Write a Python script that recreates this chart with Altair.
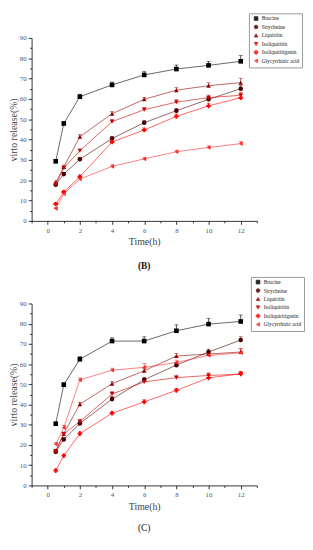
import altair as alt
import pandas as pd

# ---------------- data ----------------
times = [0.5, 1, 2, 4, 6, 8, 10, 12]
series = ["Brucine", "Strychnine", "Liquiritin", "Isoliquiritin",
          "Isoliquiritigenin", "Glycyrrhizic acid"]

# Panel (B)
brucine_b = [29.3, 47.9, 61.1, 66.9, 71.8, 74.7, 76.5, 78.5]
strychnine_b = [17.8, 23.0, 30.3, 40.5, 48.3, 54.2, 59.8, 65.0]
liquiritin_b = [18.9, 26.5, 41.4, 52.7, 59.8, 64.3, 66.5, 68.0]
isoliquiritin_b = [18.0, 26.0, 34.5, 48.8, 54.7, 58.4, 60.6, 61.8]
isoliquiritigenin_b = [8.3, 14.2, 21.7, 38.8, 44.7, 51.4, 56.6, 60.6]
glycyrrhizic_b = [6.1, 13.3, 20.6, 26.8, 30.5, 34.0, 36.1, 38.0]

brucine_b_err = [0.8, 1.0, 1.2, 1.4, 1.6, 2.0, 2.0, 2.8]
strychnine_b_err = [0.8, 0.8, 0.8, 1.0, 1.0, 1.2, 1.5, 1.6]
liquiritin_b_err = [0.8, 0.9, 1.0, 1.0, 1.0, 1.2, 1.4, 2.2]
isoliquiritin_b_err = [0.8, 0.8, 0.8, 1.0, 1.0, 1.2, 1.3, 1.5]
isoliquiritigenin_b_err = [0.8, 0.8, 0.8, 1.0, 1.0, 1.2, 1.3, 1.5]
glycyrrhizic_b_err = [0.6, 0.6, 0.8, 0.8, 0.8, 0.8, 0.8, 1.0]

# Panel (C)
brucine_c = [30.5, 49.8, 62.4, 71.4, 71.4, 76.5, 79.8, 81.1]
strychnine_c = [16.6, 22.7, 30.6, 42.7, 52.3, 59.5, 66.0, 71.9]
liquiritin_c = [17.0, 25.6, 40.2, 50.3, 56.7, 64.0, 65.0, 66.0]
isoliquiritin_c = [17.0, 25.4, 31.6, 45.2, 51.2, 53.3, 54.4, 55.0]
isoliquiritigenin_c = [7.3, 14.7, 25.6, 35.7, 41.3, 47.0, 53.2, 55.2]
glycyrrhizic_c = [20.4, 28.6, 52.2, 57.0, 58.4, 60.8, 64.3, 65.6]

brucine_c_err = [0.8, 1.0, 1.3, 1.6, 2.1, 2.9, 2.8, 3.2]
strychnine_c_err = [0.8, 0.8, 1.0, 1.2, 1.2, 1.4, 1.4, 1.6]
liquiritin_c_err = [0.8, 0.8, 1.0, 1.0, 1.2, 1.2, 1.4, 1.6]
isoliquiritin_c_err = [0.8, 0.8, 1.0, 1.2, 1.2, 1.2, 1.2, 1.2]
isoliquiritigenin_c_err = [0.8, 0.8, 0.8, 1.0, 1.0, 1.0, 1.2, 1.2]
glycyrrhizic_c_err = [0.8, 1.0, 1.0, 1.0, 2.0, 1.2, 1.4, 2.0]

colors = ["#000000", "#4a0000", "#8e0000", "#cc0000", "#ff0000", "#ff2a2a"]
shapes = ["square", "circle", "triangle-up", "triangle-down", "cross", "triangle-left"]

x_major = [0, 2, 4, 6, 8, 10, 12]
x_minor = [-1, 1, 3, 5, 7, 9, 11, 13]
y_major = [0, 10, 20, 30, 40, 50, 60, 70, 80, 90]
y_minor = [5, 15, 25, 35, 45, 55, 65, 75, 85]


def make_df(vals, errs):
    rows = []
    for name, v, e in zip(series, vals, errs):
        for t, y, err in zip(times, v, e):
            rows.append({"series": name, "time": t, "value": y, "hi": y + err})
    return pd.DataFrame(rows)


df_b = make_df(
    [brucine_b, strychnine_b, liquiritin_b, isoliquiritin_b, isoliquiritigenin_b, glycyrrhizic_b],
    [brucine_b_err, strychnine_b_err, liquiritin_b_err, isoliquiritin_b_err,
     isoliquiritigenin_b_err, glycyrrhizic_b_err])
df_c = make_df(
    [brucine_c, strychnine_c, liquiritin_c, isoliquiritin_c, isoliquiritigenin_c, glycyrrhizic_c],
    [brucine_c_err, strychnine_c_err, liquiritin_c_err, isoliquiritin_c_err,
     isoliquiritigenin_c_err, glycyrrhizic_c_err])

FONT = "Liberation Serif"
XS = alt.Scale(domain=[-1, 13], nice=False, zero=False)
YS = alt.Scale(domain=[0, 90], nice=False)


def panel(df, label, height, legend_x, legend_y, title_offset, title_weight):
    legend = alt.Legend(
        title=None, orient="none", legendX=legend_x, legendY=legend_y,
        labelFont=FONT, labelFontSize=5.5, labelColor="#222", symbolSize=14,
        symbolStrokeWidth=0.8, rowPadding=0.6, labelOffset=3, padding=2.5,
        strokeColor="#999", fillColor="white", symbolOffset=2, labelLimit=100,
    )
    color = alt.Color("series:N", sort=series,
                      scale=alt.Scale(domain=series, range=colors), legend=legend)
    x_main = alt.X("time:Q", title="Time(h)", scale=XS,
                   axis=alt.Axis(values=x_major, grid=False, labelOverlap=False,
                                 tickSize=3.5, titlePadding=4, labelPadding=2,
                                 titleFontWeight="normal", titleFont=FONT, titleFontSize=10,
                                 titleColor="#444"))
    y_main = alt.Y("value:Q", title="virto release(%)", scale=YS,
                   axis=alt.Axis(values=y_major, grid=False, labelOverlap=False,
                                 tickSize=3.5, titlePadding=1, labelPadding=2,
                                 titleFontWeight="normal", titleFont=FONT, titleFontSize=10,
                                 titleColor="#444"))
    x_min = alt.X("time:Q", title=None, scale=XS,
                  axis=alt.Axis(values=x_minor, grid=False, labels=False, domain=False,
                                tickSize=2, orient="bottom"))
    y_min = alt.Y("value:Q", title=None, scale=YS,
                  axis=alt.Axis(values=y_minor, grid=False, labels=False, domain=False,
                                tickSize=2, orient="left"))
    x_none = alt.X("time:Q", scale=XS, axis=None)
    y_none = alt.Y("value:Q", scale=YS, axis=None)

    lines = alt.Chart(df).mark_line(strokeWidth=0.7, opacity=0.85).encode(
        x=x_main, y=y_main, color=color, detail="series:N")
    err = alt.Chart(df).mark_rule(strokeWidth=0.7).encode(
        x=x_min, y=y_min, y2="hi:Q", color=color)
    caps = alt.Chart(df).mark_tick(orient="horizontal", size=4, thickness=0.7).encode(
        x=x_none, y=alt.Y("hi:Q", scale=YS, axis=None), color=color)
    pts = alt.Chart(df).mark_point(filled=True, size=22, opacity=1).encode(
        x=x_none, y=y_none, color=color,
        shape=alt.Shape("series:N", sort=series,
                        scale=alt.Scale(domain=series, range=shapes), legend=legend))
    return alt.layer(lines, err, caps, pts).resolve_axis(
        x="independent", y="independent"
    ).properties(
        width=229, height=height,
        title=alt.Title(label, orient="bottom", font=FONT, fontSize=9.5,
                        fontWeight=title_weight, offset=title_offset, color="#111"),
    )


top = panel(df_b, "(B)", 186, 221, -25, 14, "bold")
bottom = panel(df_c, "(C)", 185, 223, -27, 12, "normal")

chart = alt.vconcat(top, bottom, spacing=6).resolve_scale(
    color="independent", shape="independent"
).resolve_legend(
    color="independent", shape="independent"
).properties(
    padding={"left": 0, "top": 0, "right": 0, "bottom": 0}
).configure_view(stroke=None).configure_axis(
    domainColor="#000", tickColor="#000", domainWidth=0.8, tickWidth=0.8,
    labelColor="#555", labelFont=FONT, labelFontSize=7,
    titleFont=FONT, titleFontSize=10, titleFontWeight="normal", titleColor="#444",
).configure_title(anchor="middle")

chart.save("out.html", embed_options={"renderer": "svg", "actions": False})
